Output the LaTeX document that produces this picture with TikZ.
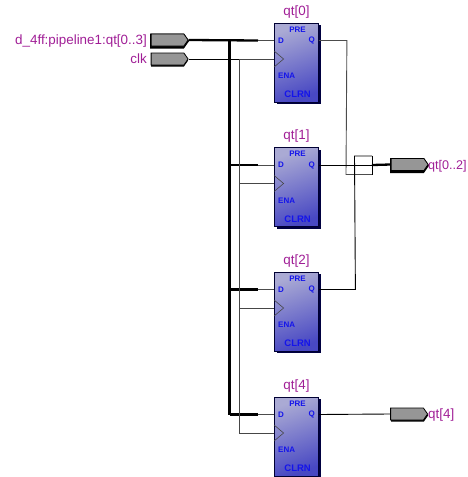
\documentclass[tikz,border=0pt]{standalone}
\usepackage{fontspec}
\setmainfont{Liberation Sans}
\usetikzlibrary{shapes.symbols,calc}
\definecolor{lbl}{RGB}{160,30,150}
\definecolor{pin}{RGB}{20,20,235}
\definecolor{portfill}{RGB}{150,150,150}
\definecolor{wireg}{RGB}{70,70,70}
\definecolor{blockA}{RGB}{170,170,212}
\definecolor{blockB}{RGB}{72,72,195}
\tikzset{
 ffblock/.style={draw=black!80!blue,line width=.8pt,minimum width=44pt,minimum height=79pt,inner sep=0pt,
   top color=blockA,bottom color=blockB,shading angle=20},
 ffshadow/.style={fill=black!75!blue,minimum width=44pt,minimum height=79pt,inner sep=0pt},
 pinlbl/.style={text=pin,font=\fontsize{8}{9}\selectfont\bfseries,inner sep=0pt},
 tlbl/.style={text=lbl,font=\fontsize{13.4}{15}\selectfont,inner sep=0pt},
 portnode/.style={signal,signal to=east,draw=black,fill=portfill,line width=.8pt,minimum width=37pt,minimum height=12pt,inner sep=0pt,signal pointer angle=110},
 portback/.style={signal,signal to=east,fill=black,minimum width=37pt,minimum height=12pt,inner sep=0pt,signal pointer angle=110},
 wire/.style={line width=.9pt,black},
 gwire/.style={line width=.9pt,wireg},
 bus/.style={line width=2.3pt,black},
}
\begin{document}
\begin{tikzpicture}[x=1pt,y=-1pt]
\useasboundingbox (0,0) rectangle (468,477);
% ports
\node[portback,minimum height=15pt,minimum width=39pt] at (167,41) {};
\node[portnode] (pd) at (167.5,40) {};
\node[portback] at (167.5,60.5) {};
\node[portnode] (pc) at (167.5,59) {};
\node[portback,minimum height=15pt,minimum width=39pt] at (407,165.5) {};
\node[portnode] (po1) at (407.5,164.5) {};
\node[portback] at (407.5,415.5) {};
\node[portnode] (po2) at (407,414) {};
\node[tlbl,anchor=east] (lpd) at (147,41) {d\_4ff:pipeline1:qt[0..3]};
\node[tlbl,anchor=east] (lpc) at (147,59) {clk};
\node[tlbl,anchor=west,font=\fontsize{12.6}{15}\selectfont] (lo1) at (428,166) {qt[0..2]};
\node[tlbl,anchor=west] (lo2) at (428,415.5) {qt[4]};
% blocks
\foreach \n/\y/\t in {0/62.5/qt[0],1/187/qt[1],2/311.5/qt[2],3/436.5/qt[4]}{
  \node[ffshadow] at (298.5,\y+2) {};
  \node[ffblock] (b\n) at (296.5,\y) {};
  \node[tlbl] (t\n) at (296.5,\y-50.5) {\t};
  \node[pinlbl] (pre\n) at (297.5,\y-33) {PRE};
  \node[pinlbl,anchor=west] (d\n) at (278,\y-22) {D};
  \node[pinlbl,anchor=east] (q\n) at (315,\y-22) {Q};
  \node[pinlbl,anchor=west] (ena\n) at (278,\y+13.5) {ENA};
  \node[pinlbl,anchor=east,font=\fontsize{9.5}{10}\selectfont\bfseries] (clrn\n) at (311,\y+32) {CLRN};
  \coordinate (in\n) at (b\n.west |- 0,\y-22);
  \coordinate (ck\n) at (b\n.west |- 0,\y-3.5);
  \coordinate (qo\n) at (b\n.east |- 0,\y-22);
  \coordinate (bt\n) at (229.5,\y-22);
  \coordinate (gt\n) at (239,\y-3.5);
  \draw[wireg,line width=.6pt] (ck\n)++(0,-8) -- ++(9.5,8) -- ++(-9.5,8);
}
% data bus
\draw[bus] (pd.east) -- (258,40.5);
\draw[bus] (bt0) -- (bt3);
\foreach \n in {1,2,3}{\draw[bus] (bt\n) -- ++(28.5,0);}
\foreach \n in {0,1,2,3}{\draw[wire,gray!60!black] ($(bt\n)+(28,0)$) -- (in\n);}
% clock
\draw[wire] (pc.east) -- (gt0);
\draw[gwire] (gt0) -- (ck0);
\draw[gwire] (gt0) -- (gt3);
\foreach \n in {1,2,3}{\draw[gwire] (gt\n) -- (ck\n);}
% merge box
\coordinate (jr) at (372,165);
\coordinate (bl) at (346,174.5);
\coordinate (br) at (372,174.5);
\coordinate (tm) at (354.5,156);
\coordinate (tr) at (372,156);
\draw[wire,gray!60!black] (qo0) -- ++(28,0) -- (bl) -- (br);
\draw[wire,black] (qo1) -- (jr);
\draw[wire,black] (qo2) -- ++(36.5,0) -- (tm) -- (tr);
\draw[line width=1pt] (tr) -- (br);
\draw[bus] (jr) -- (po1.west);
% q4
\draw[wire] (qo3) -- (po2.west);
\end{tikzpicture}
\end{document}
